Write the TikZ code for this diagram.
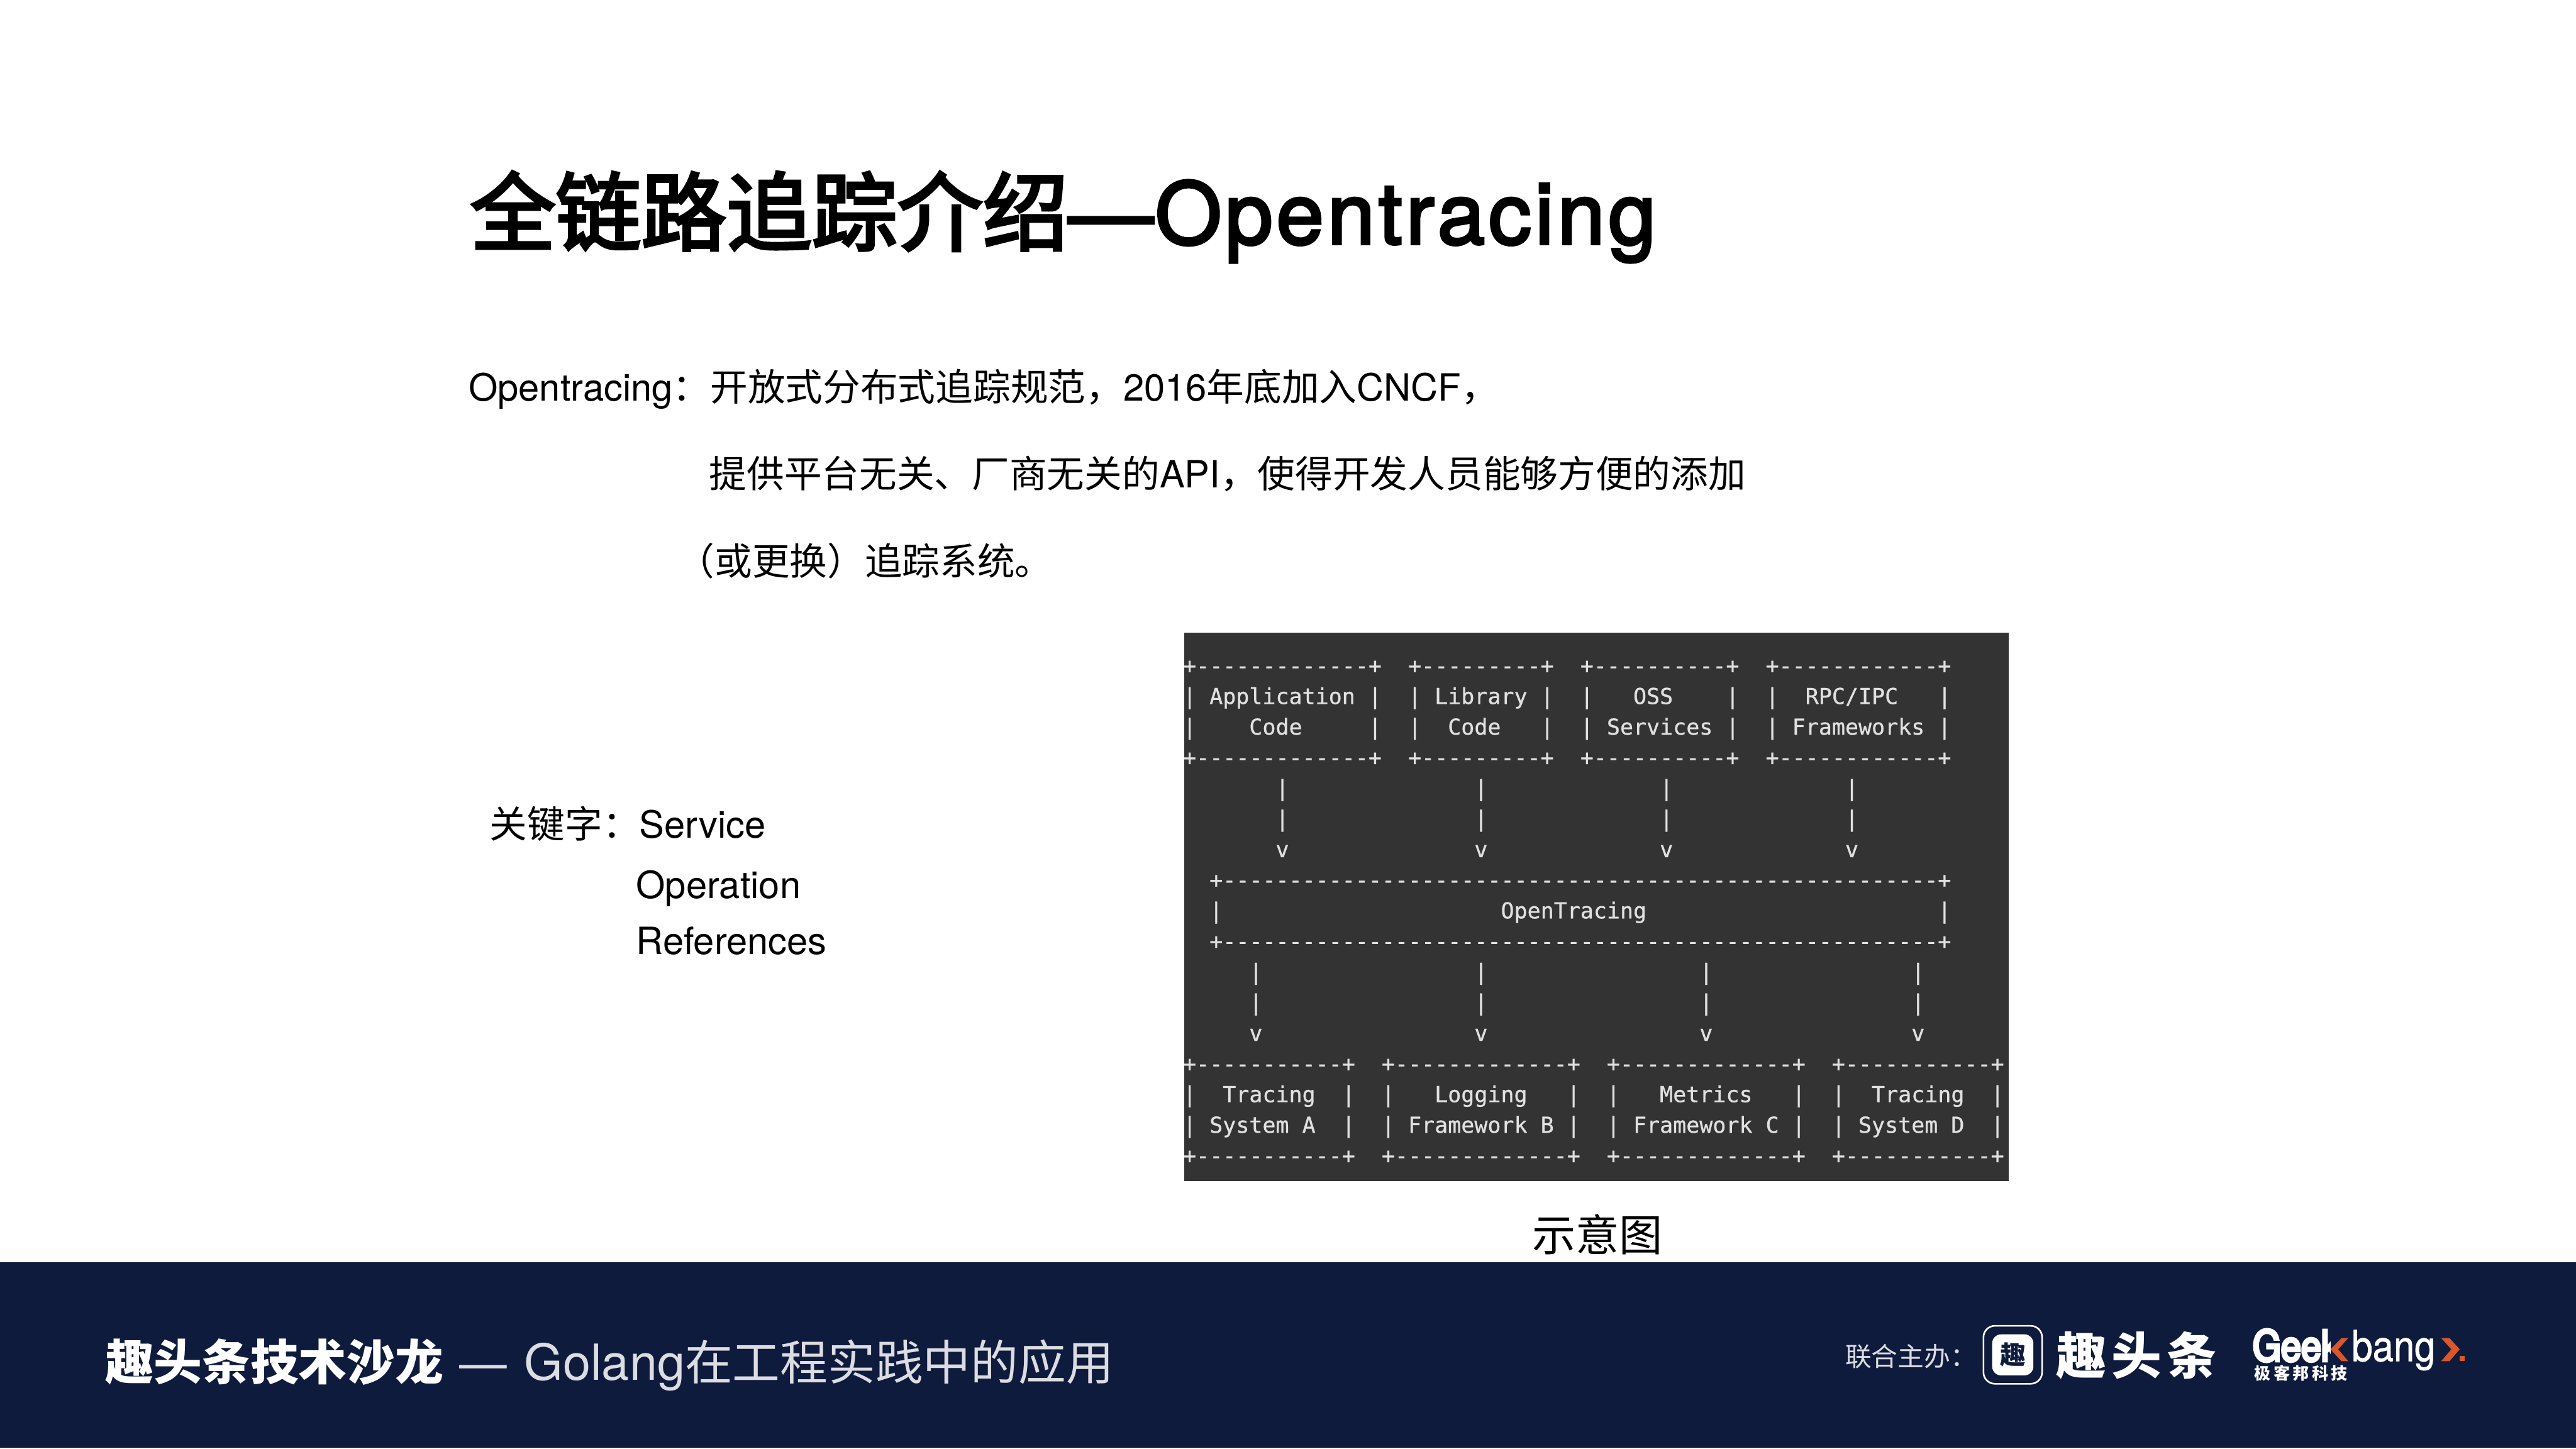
\documentclass[tikz,border=0pt]{standalone}
\usepackage{fontspec}
\setmainfont{TeX Gyre Heros}
\newfontfamily\zhfont{Noto Sans CJK SC}
\newfontfamily\zhheavy[FakeBold=3.4]{Noto Sans CJK SC}
\newfontfamily\asciifont[FakeBold=0.8]{DejaVu Sans Mono}
\newfontfamily\titlefont[FakeBold=3, LetterSpace=4.2]{TeX Gyre Heros}
\newfontfamily\geekfont[FakeStretch=0.85, FakeBold=6]{TeX Gyre Heros}
\newfontfamily\bangfont[FakeStretch=0.88, FakeBold=1]{TeX Gyre Heros}
\newcommand{\zh}[1]{{\zhfont #1}}
\definecolor{bandblue}{HTML}{0F1B3D}
\definecolor{termgrey}{HTML}{333333}
\definecolor{termtext}{HTML}{E0E0E0}
\definecolor{geekorange}{HTML}{D9572B}
\tikzset{
  slidetext/.style={anchor=base west, inner sep=0pt, font=\fontsize{22.85}{28}\selectfont},
  footertext/.style={anchor=base west, inner sep=0pt, text=white},
  asciirow/.style={anchor=base west, inner sep=0pt, text=termtext, font=\asciifont\fontsize{13.39}{16}\selectfont}
}
\begin{document}
\begin{tikzpicture}[x=1pt, y=-1pt]
\useasboundingbox ( 0, 0 ) rectangle ( 1568, 882 );
\fill [white] ( 0, 0 ) rectangle ( 1568, 882 );

% Title
\node (title) at ( 286, 148.5 ) [anchor=base west, inner sep=0pt, font=\fontsize{52}{60}\selectfont] {{\zhheavy 全链路追踪介绍}{\titlefont —\hspace{1pt}Opentracing}};

% Body lines
\node (line1) at ( 285, 244 ) [slidetext] {Opentracing\zh{：开放式分布式追踪规范，}2016\zh{年底加入}CNCF\zh{，}};
\node (line2) at ( 431.5, 297 ) [slidetext] {\zh{提供平台无关、厂商无关的}API\zh{，使得开发人员能够方便的添加}};
\node (line3) at ( 412, 350 ) [slidetext] {\zh{（或更换）追踪系统。}};

% Keywords
\node (keyword) at ( 298, 510 ) [slidetext] {\zh{关键字：}};
\node (service) at ( 389, 510 ) [slidetext] {Service};
\node (operation) at ( 387, 547 ) [slidetext] {Operation};
\node (references) at ( 387, 581 ) [slidetext] {References};

% Terminal picture
\fill [termgrey] ( 721, 385 ) rectangle ( 1222.5, 719 );
\foreach \rowtext [count=\i from 0] in {
  +-------------+~~+---------+~~+----------+~~+------------+,
  |~Application~|~~|~Library~|~~|~~~OSS~~~~|~~|~~RPC/IPC~~~|,
  |~~~~Code~~~~~|~~|~~Code~~~|~~|~Services~|~~|~Frameworks~|,
  +-------------+~~+---------+~~+----------+~~+------------+,
  ~~~~~~~|~~~~~~~~~~~~~~|~~~~~~~~~~~~~|~~~~~~~~~~~~~|,
  ~~~~~~~|~~~~~~~~~~~~~~|~~~~~~~~~~~~~|~~~~~~~~~~~~~|,
  ~~~~~~~v~~~~~~~~~~~~~~v~~~~~~~~~~~~~v~~~~~~~~~~~~~v,
  ~~+------------------------------------------------------+,
  ~~|~~~~~~~~~~~~~~~~~~~~~OpenTracing~~~~~~~~~~~~~~~~~~~~~~|,
  ~~+------------------------------------------------------+,
  ~~~~~|~~~~~~~~~~~~~~~~|~~~~~~~~~~~~~~~~|~~~~~~~~~~~~~~~|,
  ~~~~~|~~~~~~~~~~~~~~~~|~~~~~~~~~~~~~~~~|~~~~~~~~~~~~~~~|,
  ~~~~~v~~~~~~~~~~~~~~~~v~~~~~~~~~~~~~~~~v~~~~~~~~~~~~~~~v,
  +-----------+~~+-------------+~~+-------------+~~+-----------+,
  |~~Tracing~~|~~|~~~Logging~~~|~~|~~~Metrics~~~|~~|~~Tracing~~|,
  |~System~A~~|~~|~Framework~B~|~~|~Framework~C~|~~|~System~D~~|,
  +-----------+~~+-------------+~~+-------------+~~+-----------+%
}
  \node (row\i) at ( 719.9, 409.9+18.64*\i ) [asciirow] {\rowtext};

% Caption
\node (caption) at ( 932.5, 761.7 ) [anchor=base west, inner sep=0pt, font=\fontsize{26.5}{30}\selectfont] {\zh{示意图}};

% Bottom band
\fill [bandblue] ( 0, 768.2 ) rectangle ( 1568, 881.3 );
\node (salon) at ( 64, 840 ) [footertext, font=\fontsize{29.4}{34}\selectfont\bfseries] {\zh{趣头条技术沙龙}};
\node (talk) at ( 279.5, 840 ) [footertext, text=white!85!bandblue, font=\fontsize{29}{34}\selectfont] {—\hspace{10.5pt}{\fontsize{30.3}{34}\selectfont Golang}\zh{在工程实践中的应用}};
\node (host) at ( 1123, 831.5 ) [footertext, text=white!85!bandblue, font=\fontsize{16}{20}\selectfont] {\zh{联合主办：}};

% Host logo
\draw [white, line width=1pt, rounded corners=7pt] ( 1207.3, 807 ) rectangle ( 1243, 842.3 );
\fill [white, rounded corners=5.5pt] ( 1212.6, 812.2 ) rectangle ( 1237.7, 837.2 );
\node (mark) at ( 1225.2, 824.6 ) [inner sep=0pt, text=bandblue, font=\fontsize{15.5}{16}\selectfont\bfseries] {\zh{趣}};
\node (hostname) at ( 1251.5, 836.5 ) [footertext, font=\fontsize{30.5}{36}\selectfont\bfseries] {\zh{趣\hspace{3.2pt}头\hspace{3.2pt}条}};

% Geekbang logo
\node (geek) at ( 1371, 828.5 ) [footertext, font=\geekfont\fontsize{26}{28}\selectfont] {Geek};
\fill [bandblue] ( 1418.8, 810 ) rectangle ( 1432, 830 );
\node (bang) at ( 1431.3, 828.5 ) [footertext, font=\bangfont\fontsize{26}{28}\selectfont] {bang};
\fill [geekorange] ( 1425.2, 814.5 ) -- ( 1429.3, 814.5 ) -- ( 1423.2, 821.3 ) -- ( 1429.3, 828.5 ) -- ( 1425.2, 828.5 ) -- ( 1418.6, 821.3 ) -- cycle;
\fill [geekorange] ( 1486, 814.5 ) -- ( 1491, 814.5 ) -- ( 1497.2, 821.3 ) -- ( 1491, 828.5 ) -- ( 1486, 828.5 ) -- ( 1492.1, 821.3 ) -- cycle;
\fill [geekorange] ( 1497.2, 825.4 ) rectangle ( 1500.2, 828.5 );
\node (geekcn) at ( 1372, 839.6 ) [footertext, font=\fontsize{10}{12}\selectfont\bfseries] {\zh{极\hspace{1.7pt}客\hspace{1.7pt}邦\hspace{1.7pt}科\hspace{1.7pt}技}};
\end{tikzpicture}
\end{document}
